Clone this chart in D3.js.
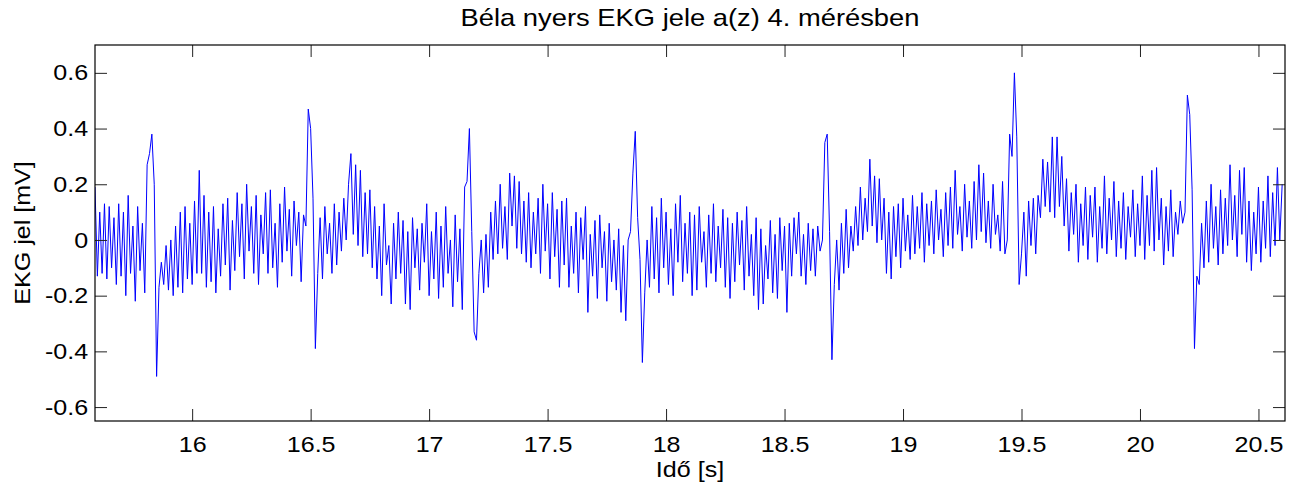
<!DOCTYPE html>
<html>
<head>
<meta charset="utf-8">
<script src="https://cdn.jsdelivr.net/npm/d3@7/dist/d3.min.js"></script>
<style>
  body { margin: 0; background: #fff; }
  svg { display: block; font-family: "Liberation Sans", Arial, sans-serif; }
</style>
</head>
<body>
<svg id="chart" width="1293" height="488"></svg>
<script>
// raw samples, 100 Hz, starting at 15.59 s
var sampleStart = 15.59;
var sampleStep = 0.01;
var ekg = [
  0.19,-0.13,0.10,-0.12,0.13,-0.14,0.12,-0.10,0.08,-0.16,0.13,-0.13,0.10,-0.20,0.16,-0.12,0.05,-0.22,0.12,-0.11,0.06,-0.19,
  0.27,0.31,0.38,0.20,-0.49,-0.17,
  -0.08,-0.16,-0.02,-0.18,0.00,-0.20,0.05,-0.17,0.10,-0.19,0.12,-0.14,0.06,-0.16,0.14,-0.12,0.25,
  -0.12,0.16,-0.17,0.10,-0.15,0.12,-0.19,0.04,-0.13,0.13,
  -0.09,0.15,-0.18,0.07,-0.11,0.17,-0.06,0.13,-0.14,0.20,
  -0.04,0.12,-0.12,0.16,-0.16,0.09,-0.05,0.17,-0.12,0.18,
  -0.10,0.06,-0.17,0.13,-0.08,0.19,-0.04,0.11,-0.13,0.14,
  -0.02,0.10,-0.15,0.09,
  0.05,0.47,0.40,0.15,-0.39,-0.12,
  0.08,-0.14,0.12,-0.05,0.06,-0.12,0.13,-0.09,0.10,-0.04,
  0.15,0.00,0.20,0.31,0.02,0.27,-0.02,0.25,-0.06,0.17,
  -0.05,0.18,-0.10,0.12,-0.14,0.05,-0.20,0.13,-0.09,-0.02,
  -0.23,0.06,-0.14,0.10,
  -0.12,0.07,-0.23,0.03,-0.25,0.08,-0.10,0.04,-0.18,0.06,
  -0.08,0.13,-0.20,0.03,-0.14,0.10,-0.21,0.05,-0.17,0.12,
  -0.12,0.00,-0.24,0.09,-0.15,0.04,-0.25,
  0.19,0.21,0.40,0.03,-0.33,-0.36,-0.12,
  0.00,-0.19,0.02,-0.17,0.10,-0.07,0.14,-0.05,
  0.20,-0.03,0.12,-0.07,0.24,0.05,0.23,-0.03,0.21,-0.05,0.14,-0.08,0.17,-0.10,0.10,-0.05,0.15,-0.12,
  0.20,-0.04,0.13,-0.14,0.17,-0.06,0.11,-0.17,0.14,-0.09,
  0.15,-0.17,0.05,-0.12,0.10,-0.19,0.08,-0.07,0.12,-0.26,
  0.02,-0.13,0.07,-0.21,0.09,-0.10,0.03,-0.22,0.06,-0.15,
  0.00,-0.18,0.04,-0.26,-0.02,-0.29,0.00,
  0.03,0.24,0.39,0.08,-0.07,-0.44,-0.19,
  0.00,-0.17,0.12,-0.14,0.08,-0.19,0.15,-0.10,0.10,-0.16,
  0.04,-0.20,0.13,-0.08,0.16,-0.15,0.06,-0.12,0.10,-0.20,
  0.09,-0.18,0.12,-0.08,0.03,-0.17,0.09,-0.12,0.13,-0.15,
  0.05,-0.10,0.11,-0.17,0.08,-0.21,0.06,-0.15,0.10,-0.09,
  0.07,-0.18,0.12,-0.13,0.02,-0.20,0.08,-0.25,0.04,-0.23,
  -0.02,-0.14,0.07,-0.19,0.02,-0.21,0.08,-0.11,0.05,-0.26,
  0.06,-0.13,0.08,-0.05,0.10,-0.13,0.02,-0.16,0.06,-0.11,
  0.04,-0.13,0.05,-0.04,0.00,
  0.35,0.38,0.03,-0.43,-0.16,
  0.00,-0.18,0.06,-0.12,0.11,-0.10,0.05,-0.04,0.12,-0.02,
  0.19,0.00,0.15,0.03,0.29,0.05,0.23,-0.01,0.22,0.00,
  0.15,-0.12,0.10,-0.14,0.12,-0.06,0.13,-0.10,0.15,-0.04,
  0.09,-0.07,0.16,-0.05,0.12,-0.03,0.17,-0.08,0.13,-0.02,
  0.14,-0.05,0.18,0.00,0.11,-0.06,0.17,-0.02,0.19,-0.03,
  0.25,0.02,0.12,-0.04,0.20,0.01,0.14,-0.03,0.21,0.00,
  0.27,0.03,0.24,-0.01,0.14,-0.03,0.20,0.02,0.09,-0.04,
  0.21,-0.05,0.00,
  0.38,0.30,0.60,0.37,-0.16,-0.05,
  0.10,-0.13,0.14,-0.02,0.15,-0.05,0.16,0.08,
  0.29,0.12,0.28,0.10,0.37,0.08,0.37,0.12,0.30,
  0.05,0.22,-0.04,0.17,0.02,0.20,-0.08,0.13,-0.02,0.19,
  -0.07,0.16,0.01,0.19,-0.08,0.12,-0.03,0.23,-0.05,0.15,
  0.00,0.21,-0.06,0.14,-0.03,0.17,-0.07,0.12,0.01,0.18,
  -0.06,0.13,-0.02,0.23,-0.07,0.16,-0.02,0.25,-0.04,0.26,
  0.00,0.15,-0.09,0.12,-0.04,0.18,-0.06,0.10,0.02,0.14,
  0.06,0.10,
  0.52,0.45,0.18,-0.39,-0.13,
  -0.16,0.06,-0.10,0.14,-0.08,0.20,-0.03,0.12,-0.09,0.18,
  -0.05,0.15,-0.02,0.27,0.00,0.16,-0.06,0.25,0.02,0.26,
  -0.08,0.14,-0.11,0.10,-0.05,0.19,-0.08,0.14,-0.03,0.23,
  -0.06,0.17,-0.02,0.26,0.00,0.20
];

var xDomain = [15.59, 20.612];
var yDomain = [-0.65, 0.7];
var xTicks = [16, 16.5, 17, 17.5, 18, 18.5, 19, 19.5, 20, 20.5];
var yTicks = [-0.6, -0.4, -0.2, 0, 0.2, 0.4, 0.6];

var titleText = "Béla nyers EKG jele a(z) 4. mérésben";
var xLabel = "Idő [s]";
var yLabel = "EKG jel [mV]";

var margin = {top: 45, right: 8, bottom: 67, left: 95},
    width = 1293 - margin.left - margin.right,
    height = 488 - margin.top - margin.bottom;

// the exported figure's text runs a bit wider than Arial
var stretch = 1.14;

var svg = d3.select("#chart");
var g = svg.append("g").attr("transform", "translate(" + margin.left + "," + margin.top + ")");

var x = d3.scaleLinear().domain(xDomain).range([0, width]);
var y = d3.scaleLinear().domain(yDomain).range([height, 0]);

function fmt(d) { return String(+d.toFixed(1)); }

g.append("clipPath").attr("id", "plotclip")
  .append("rect").attr("width", width).attr("height", height);

var line = d3.line()
  .x(function(d, i) { return x(sampleStart + i * sampleStep); })
  .y(function(d) { return y(d); });

g.append("path")
  .datum(ekg)
  .attr("clip-path", "url(#plotclip)")
  .attr("fill", "none")
  .attr("stroke", "#0000ff")
  .attr("stroke-width", 1)
  .attr("d", line);

var tickLen = 12;

var axB = g.append("g").attr("transform", "translate(0," + height + ")")
  .call(d3.axisBottom(x).tickValues(xTicks).tickSize(-tickLen).tickSizeOuter(0).tickPadding(15).tickFormat(fmt));
var axT = g.append("g")
  .call(d3.axisTop(x).tickValues(xTicks).tickSize(-tickLen).tickSizeOuter(0).tickFormat(""));
var axL = g.append("g")
  .call(d3.axisLeft(y).tickValues(yTicks).tickSize(-tickLen).tickSizeOuter(0).tickPadding(6).tickFormat(fmt));
var axR = g.append("g").attr("transform", "translate(" + width + ",0)")
  .call(d3.axisRight(y).tickValues(yTicks).tickSize(-tickLen).tickSizeOuter(0).tickFormat(""));

[axB, axT, axL, axR].forEach(function(a) {
  a.select(".domain").remove();
  a.selectAll(".tick line").attr("stroke", "#222");
  a.selectAll(".tick text")
    .attr("fill", "#000")
    .attr("transform", "scale(" + stretch + ",1)")
    .style("font-size", "22px")
    .style("font-family", "inherit");
});

g.append("rect")
  .attr("width", width).attr("height", height)
  .attr("fill", "none").attr("stroke", "#000").attr("stroke-width", 1.2);

svg.append("text")
  .attr("transform", "translate(" + (margin.left + width / 2) + ",26) scale(" + stretch + ",1)")
  .attr("text-anchor", "middle").style("font-size", "24px")
  .text(titleText);

svg.append("text")
  .attr("transform", "translate(" + (margin.left + width / 2) + ",477) scale(" + stretch + ",1)")
  .attr("text-anchor", "middle").style("font-size", "22px")
  .text(xLabel);

svg.append("text")
  .attr("transform", "translate(30," + (margin.top + height / 2) + ") rotate(-90) scale(" + stretch + ",1)")
  .attr("text-anchor", "middle").style("font-size", "22px")
  .text(yLabel);
</script>
</body>
</html>
